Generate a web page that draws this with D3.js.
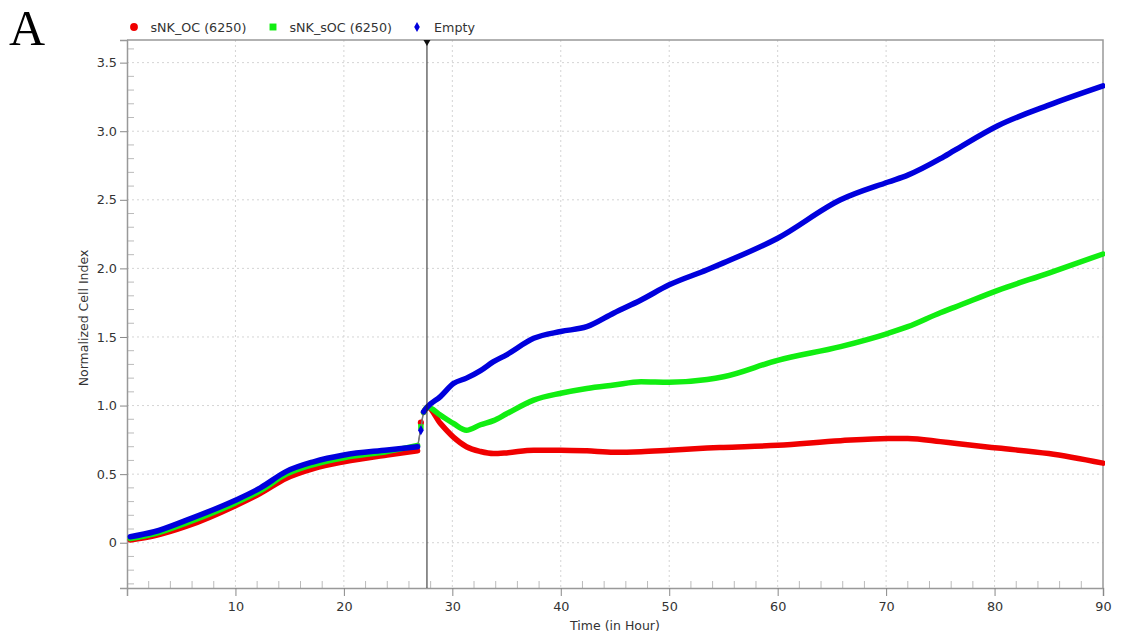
<!DOCTYPE html>
<html>
<head>
<meta charset="utf-8">
<script src="https://cdn.jsdelivr.net/npm/d3@7"></script>
<style>
  body { margin: 0; background: #fff; }
  text { font-family: 'DejaVu Sans', sans-serif; }
</style>
</head>
<body>
<div id="chart"></div>
<script>
// Time points (hours)
var hours = [0.3, 2.5, 5.5, 10, 12.3, 14.7, 17.2, 20, 24, 26.8, 27.1, 27.35, 27.7, 28.9, 30.1, 31.3, 32.6, 33.8, 35, 37.5,
  40, 42.4, 44.9, 47.4, 50, 53.5, 55, 60, 65.8, 70.2, 72, 75, 76.3, 80.3, 85, 90]

// Normalized cell index per series
var sNkOc = [0.02, 0.05, 0.12, 0.27, 0.36, 0.47, 0.54, 0.59, 0.64, 0.67, 0.875, 0.95, 0.99, 0.87, 0.77, 0.70, 0.665, 0.65, 0.655, 0.675,
  0.675, 0.67, 0.66, 0.664, 0.675, 0.69, 0.695, 0.71, 0.744, 0.76, 0.76, 0.737, 0.725, 0.69, 0.65, 0.58]
var sNkSoc = [0.03, 0.065, 0.145, 0.29, 0.38, 0.50, 0.57, 0.62, 0.665, 0.71, 0.845, 0.95, 0.99, 0.93, 0.87, 0.82, 0.86, 0.89, 0.94, 1.04,
  1.09, 1.125, 1.15, 1.174, 1.17, 1.19, 1.21, 1.33, 1.43, 1.527, 1.575, 1.677, 1.716, 1.84, 1.966, 2.105]
var empty = [0.044, 0.08, 0.165, 0.31, 0.40, 0.52, 0.59, 0.64, 0.676, 0.70, 0.82, 0.955, 0.99, 1.065, 1.16, 1.20, 1.255, 1.32, 1.37, 1.49,
  1.54, 1.575, 1.675, 1.77, 1.88, 1.99, 2.04, 2.22, 2.50, 2.63, 2.68, 2.80, 2.86, 3.04, 3.19, 3.33]

var seriesNames = ['sNK_OC (6250)', 'sNK_sOC (6250)', 'Empty']
var seriesColours = ['#f00000', '#11ee11', '#0000dd']
var seriesSymbols = [d3.symbolCircle, d3.symbolSquare, d3.symbolDiamond]

var xTicks = [10, 20, 30, 40, 50, 60, 70, 80, 90]
var yTicks = [0, 0.5, 1.0, 1.5, 2.0, 2.5, 3.0, 3.5]

// Hour of the vertical marker, and the sparse jump between the two thick segments
var markerHour = 27.66
var jumpFrom = 26.8
var jumpTo = 27.35

// Layout variables
var width = 1126
var height = 634
var plot = { left: 127, right: 1103, top: 40, bottom: 588 }

var svg = d3.select('#chart').append('svg')
  .attr('width', width)
  .attr('height', height)

svg.append('rect').attr('width', width).attr('height', height).attr('fill', '#fff')

var x = d3.scaleLinear().domain([0, 90]).range([plot.left, plot.right])
var y = d3.scaleLinear().domain([-0.33, 3.665]).range([plot.bottom, plot.top])

// Grid lines
var grid = svg.append('g').attr('class', 'grid')
grid.selectAll('.vgrid')
  .data(xTicks.slice(0, -1))
  .enter().append('line')
  .attr('x1', function (d) { return x(d) })
  .attr('x2', function (d) { return x(d) })
  .attr('y1', plot.top)
  .attr('y2', plot.bottom)
  .attr('stroke', '#d4d4d4')
  .attr('stroke-dasharray', '2,3')

grid.selectAll('.hgrid')
  .data(yTicks)
  .enter().append('line')
  .attr('x1', plot.left)
  .attr('x2', plot.right)
  .attr('y1', function (d) { return y(d) })
  .attr('y2', function (d) { return y(d) })
  .attr('stroke', '#d4d4d4')
  .attr('stroke-dasharray', '2,3')

// Minor ticks inside the plot
var minorX = d3.range(2, 90, 2).filter(function (d) { return d % 10 !== 0 })
grid.selectAll('.minor-x')
  .data(minorX)
  .enter().append('line')
  .attr('x1', function (d) { return x(d) })
  .attr('x2', function (d) { return x(d) })
  .attr('y1', plot.bottom)
  .attr('y2', plot.bottom - 7)
  .attr('stroke', '#bbb')

var minorY = d3.range(-3, 37).map(function (d) { return d / 10 }).filter(function (d) { return Math.round(d * 10) % 5 !== 0 })
grid.selectAll('.minor-y')
  .data(minorY)
  .enter().append('line')
  .attr('x1', plot.left)
  .attr('x2', plot.left + 7)
  .attr('y1', function (d) { return y(d) })
  .attr('y2', function (d) { return y(d) })
  .attr('stroke', '#bbb')

// Axes
var xAxis = svg.append('g')
  .attr('transform', 'translate(0,' + plot.bottom + ')')
  .call(d3.axisBottom(x).tickValues(xTicks).tickSize(8).tickPadding(6).tickFormat(d3.format('d')))

var yAxis = svg.append('g')
  .attr('transform', 'translate(' + plot.left + ',0)')
  .call(d3.axisLeft(y).tickValues(yTicks).tickSize(7).tickPadding(3)
    .tickFormat(function (d) { return d === 0 ? '0' : d3.format('.1f')(d) }))

;[xAxis, yAxis].forEach(function (a) {
  a.select('.domain').attr('stroke', '#999').attr('stroke-width', 1.5)
  a.selectAll('.tick line').attr('stroke', '#888')
  a.selectAll('.tick text').attr('fill', '#333').style('font-size', '12.8px').style('font-family', 'DejaVu Sans, sans-serif')
})

// Top and right border
svg.append('path')
  .attr('d', 'M' + plot.left + ',' + plot.top + 'H' + plot.right + 'V' + plot.bottom)
  .attr('fill', 'none')
  .attr('stroke', '#999')
  .attr('stroke-width', 1.5)

// Series
var clip = svg.append('clipPath').attr('id', 'clip')
clip.append('rect')
  .attr('x', plot.left).attr('y', plot.top)
  .attr('width', plot.right - plot.left + 2).attr('height', plot.bottom - plot.top)

var line = d3.line()
  .x(function (d) { return x(d.t) })
  .y(function (d) { return y(d.v) })
  .curve(d3.curveMonotoneX)

var seriesValues = [sNkOc, sNkSoc, empty]
var lines = svg.append('g').attr('clip-path', 'url(#clip)')

seriesValues.forEach(function (values, s) {
  var pts = hours.map(function (t, i) { return { t: t, v: values[i] } })
  var before = pts.filter(function (d) { return d.t <= jumpFrom })
  var after = pts.filter(function (d) { return d.t >= jumpTo })
  var jump = pts.filter(function (d) { return d.t > jumpFrom && d.t < jumpTo })

  // thin connector across the jump
  lines.append('path')
    .datum(pts.filter(function (d) { return d.t >= jumpFrom && d.t <= jumpTo }))
    .attr('d', d3.line().x(function (d) { return x(d.t) }).y(function (d) { return y(d.v) }))
    .attr('fill', 'none')
    .attr('stroke', '#777')
    .attr('stroke-width', 1)

  ;[before, after].forEach(function (seg) {
    lines.append('path')
      .datum(seg)
      .attr('d', line)
      .attr('fill', 'none')
      .attr('stroke', seriesColours[s])
      .attr('stroke-width', 5.5)
      .attr('stroke-linecap', 'round')
      .attr('stroke-linejoin', 'round')
  })

  lines.selectAll('.jump' + s)
    .data(jump)
    .enter().append('path')
    .attr('transform', function (d) { return 'translate(' + x(d.t) + ',' + y(d.v) + ')' })
    .attr('d', d3.symbol().type(seriesSymbols[s]).size(30))
    .attr('fill', seriesColours[s])
})

// Vertical marker line with triangle
svg.append('line')
  .attr('x1', x(markerHour)).attr('x2', x(markerHour))
  .attr('y1', plot.top).attr('y2', plot.bottom)
  .attr('stroke', '#222')
  .attr('stroke-width', 1)

svg.append('path')
  .attr('d', 'M' + (x(markerHour) - 3.5) + ',' + plot.top + 'h7l-3.5,6z')
  .attr('fill', '#111')

// Legend
var legendX = [134, 273, 417]
var legend = svg.selectAll('.legend')
  .data(seriesNames)
  .enter().append('g')
  .attr('class', 'legend')
  .attr('transform', function (d, i) { return 'translate(' + legendX[i] + ',27)' })

legend.append('path')
  .attr('d', function (d, i) { return d3.symbol().type(seriesSymbols[i]).size(i === 2 ? 28 : 48)() })
  .attr('fill', function (d, i) { return seriesColours[i] })

legend.append('text')
  .attr('x', function (d, i) { return i === 2 ? 17 : 16.5 })
  .attr('y', 5)
  .attr('fill', '#333')
  .style('font-size', '12.7px')
  .text(function (d) { return d })

// Axis titles
svg.append('text')
  .attr('x', (plot.left + plot.right) / 2 + 0)
  .attr('y', 630)
  .attr('text-anchor', 'middle')
  .attr('fill', '#333')
  .style('font-size', '12.5px')
  .text('Time (in Hour)')

svg.append('text')
  .attr('transform', 'translate(88,318) rotate(-90)')
  .attr('text-anchor', 'middle')
  .attr('fill', '#333')
  .style('font-size', '12.5px')
  .text('Normalized Cell Index')

// Panel letter
svg.append('text')
  .attr('x', 9)
  .attr('y', 45)
  .style('font-family', 'Liberation Serif, serif')
  .style('font-size', '50px')
  .attr('fill', '#000')
  .text('A')
</script>
</body>
</html>
